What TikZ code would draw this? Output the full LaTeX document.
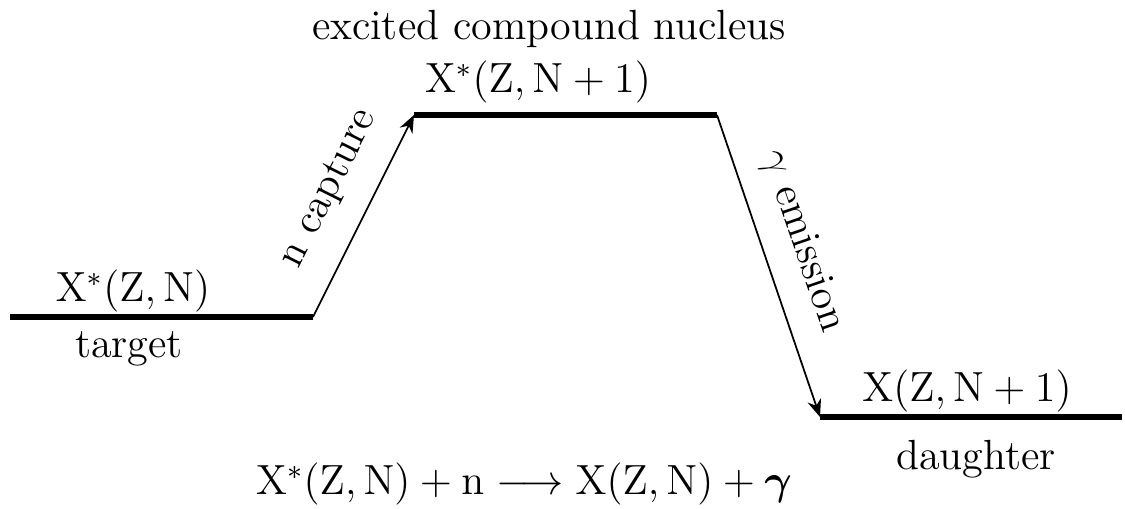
\documentclass[tikz,border=0pt]{standalone}
\usepackage{amsmath}
\usetikzlibrary{arrows.meta}
\begin{document}
\begin{tikzpicture}[
  level/.style={line width=1.8pt},
  trans/.style={line width=0.5pt,-{Stealth[length=5pt,width=4pt]}},
  lbl/.style={font=\large,inner sep=0pt,anchor=base},
  slbl/.style={font=\large,sloped,above,inner sep=7pt}
]
\useasboundingbox (0,0) rectangle (11.25,5.09);
\coordinate (t1) at (0.10,1.92);
\coordinate (t2) at (3.13,1.92);
\coordinate (c1) at (4.14,3.94);
\coordinate (c2) at (7.17,3.94);
\coordinate (d1) at (8.20,0.92);
\coordinate (d2) at (11.22,0.92);
\draw[level] (t1) -- (t2);
\draw[level] (c1) -- (c2);
\draw[level] (d1) -- (d2);
\draw[trans] (t2) -- node[slbl,pos=0.54] {n capture} (c1);
\draw[trans] (c2) -- node[slbl,pos=0.46,inner sep=6pt] {$\gamma$ emission} (d1);
\node[lbl] (tl) at (1.33,2.07) {$\mathrm{X}^*(\mathrm{Z},\mathrm{N})$};
\node[lbl] (tn) at (1.29,1.51) {target};
\node[lbl] (cn) at (5.49,4.69) {excited compound nucleus};
\node[lbl] (cl) at (5.38,4.16) {$\mathrm{X}^*(\mathrm{Z},\mathrm{N}+1)$};
\node[lbl] (dl) at (9.67,1.07) {$\mathrm{X}(\mathrm{Z},\mathrm{N}+1)$};
\node[lbl] (dn) at (9.76,0.39) {daughter};
\node[lbl] (eq) at (5.24,0.14) {$\mathrm{X}^*(\mathrm{Z},\mathrm{N})+\mathrm{n}\longrightarrow\mathrm{X}(\mathrm{Z},\mathrm{N})+\boldsymbol{\gamma}$};
\end{tikzpicture}
\end{document}
